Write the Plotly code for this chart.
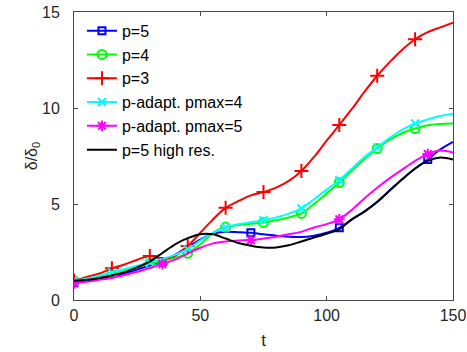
import plotly.graph_objects as go

t = list(range(0, 151, 5))

p5 = [0.9, 1.0, 1.1, 1.22, 1.38, 1.58, 1.8, 2.0, 2.35, 2.75, 3.15, 3.45, 3.55, 3.53, 3.5, 3.42,
      3.35, 3.3, 3.28, 3.35, 3.5, 3.76, 4.2, 4.62, 5.12, 5.72, 6.3, 6.85, 7.32, 7.85, 8.24]
p4 = [1.0, 1.1, 1.22, 1.4, 1.55, 1.72, 1.9, 2.05, 2.2, 2.43, 2.9, 3.5, 3.8, 3.9, 3.97, 4.04,
      4.15, 4.3, 4.51, 5.0, 5.55, 6.12, 6.75, 7.35, 7.89, 8.35, 8.7, 8.93, 9.1, 9.17, 9.19]
p3 = [1.0, 1.2, 1.38, 1.65, 1.85, 2.1, 2.29, 2.15, 2.3, 2.81, 3.5, 4.2, 4.8, 5.15, 5.45, 5.62,
      5.85, 6.2, 6.72, 7.45, 8.3, 9.12, 9.95, 10.85, 11.68, 12.4, 13.05, 13.58, 13.95, 14.2, 14.45]
pa4 = [1.0, 1.12, 1.27, 1.44, 1.6, 1.78, 1.97, 2.15, 2.35, 2.65, 3.1, 3.5, 3.78, 3.95, 4.05, 4.16,
       4.3, 4.5, 4.77, 5.25, 5.75, 6.24, 6.85, 7.45, 7.95, 8.45, 8.88, 9.19, 9.4, 9.58, 9.7]
pa5 = [0.87, 0.95, 1.05, 1.15, 1.3, 1.47, 1.67, 1.87, 2.1, 2.42, 2.72, 2.95, 3.05, 3.1, 3.12, 3.2,
       3.3, 3.42, 3.55, 3.78, 3.95, 4.2, 4.7, 5.3, 5.85, 6.35, 6.8, 7.25, 7.6, 7.78, 7.68]
hires = [1.0, 1.05, 1.15, 1.28, 1.45, 1.7, 2.0, 2.45, 2.9, 3.22, 3.43, 3.42, 3.2, 2.97, 2.83, 2.74,
         2.74, 2.85, 3.05, 3.25, 3.45, 3.68, 4.2, 4.6, 5.1, 5.7, 6.3, 6.85, 7.25, 7.42, 7.32]

names = ["p=5", "p=4", "p=3", "p-adapt. pmax=4", "p-adapt. pmax=5", "p=5 high res."]
series = [p5, p4, p3, pa4, pa5, hires]
colors = ["#0000ff", "#00ff00", "#ff0000", "#00ffff", "#ff00ff", "#000000"]
symbols = ["square-open", "circle-open", "cross-thin-open", "x-thin-open", "asterisk-open", None]
msizes = [7, 9, 10, 8, 9, 0]
mstep = [7, 3, 3, 3, 7, None]

fig = go.Figure()
for name, y, c, s, ms, st in zip(names, series, colors, symbols, msizes, mstep):
    fig.add_trace(go.Scatter(x=t, y=y, mode="lines", line=dict(color=c, width=2, shape="spline", smoothing=0.8),
                             showlegend=False, hoverinfo="skip"))
    if s is not None:
        mx = t[0:len(t) - 1:st]
        my = y[0:len(t) - 1:st]
        fig.add_trace(go.Scatter(x=mx, y=my, mode="markers",
                                 marker=dict(symbol=s, size=ms, color=c, line=dict(color=c, width=2)),
                                 showlegend=False))
        fig.add_trace(go.Scatter(x=[None], y=[None], mode="lines+markers", name=name,
                                 line=dict(color=c, width=2),
                                 marker=dict(symbol=s, size=ms, color=c, line=dict(color=c, width=2))))
    else:
        fig.add_trace(go.Scatter(x=[None], y=[None], mode="lines", name=name,
                                 line=dict(color=c, width=2)))

axis_common = dict(showline=True, linecolor="#4a4a4a", linewidth=1, mirror="ticks",
                   ticks="inside", ticklen=4, tickcolor="#4a4a4a", showgrid=False, zeroline=False,
                   automargin=False, tickfont=dict(size=16, color="#262626"))

fig.update_layout(
    width=467, height=352,
    margin=dict(l=74, r=14, t=12, b=52, autoexpand=False),
    paper_bgcolor="white", plot_bgcolor="white",
    font=dict(family="Liberation Sans, Arial, sans-serif", size=16, color="#262626"),
    xaxis=dict(range=[0, 150], tickvals=[0, 50, 100, 150], ticklabelstandoff=1,
               title=dict(text="t", font=dict(size=17), standoff=10), **axis_common),
    yaxis=dict(range=[0, 15], tickvals=[0, 5, 10, 15], ticklabelstandoff=10,
               title=dict(text="δ/δ<sub>0</sub>", font=dict(size=16), standoff=0), **axis_common),
    legend=dict(x=0.021, y=0.994, xanchor="left", yanchor="top", bgcolor="rgba(0,0,0,0)",
                borderwidth=0, font=dict(size=16, color="#000000"), itemwidth=30,
                tracegroupgap=0),
)

fig.write_html("out.html", config={"displayModeBar": False},
               post_script="document.body.style.margin='0';")
